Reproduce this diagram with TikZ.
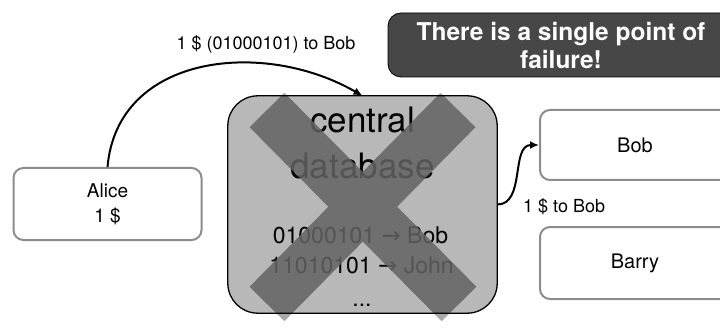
\documentclass[tikz,border=0pt]{standalone}
\usepackage{fontspec}
\setmainfont{TeX Gyre Heros}
\newfontfamily\arrowfont{DejaVu Sans}
\usetikzlibrary{arrows.meta}

\newcommand{\fsize}[2]{\fontsize{#1}{#2}\selectfont}
\newcommand{\toarrow}{{\arrowfont →}}

\definecolor{dbgray}{HTML}{B8B8B8}
\definecolor{crossgray}{HTML}{636363}
\definecolor{crosslight}{HTML}{A8A8A8}
\definecolor{notegray}{HTML}{474747}
\definecolor{boxgray}{HTML}{8C8C8C}

\tikzset{
  account/.style={draw=boxgray, line width=2pt, fill=white, rounded corners=10pt,
    minimum width=188pt, minimum height=72pt, align=center, font=\fsize{19}{25}},
  dbbox/.style={fill=dbgray, rounded corners=30pt,
    minimum width=269pt, minimum height=217pt},
  dbline/.style={draw=black, line width=1.3pt, rounded corners=30pt},
  dbtitle/.style={inner sep=0pt, font=\fsize{35}{45}},
  record/.style={inner sep=0pt, font=\fsize{23}{30}},
  msg/.style={inner sep=0pt, font=\fsize{18}{22}},
  note/.style={draw=black, line width=0.8pt, fill=notegray, text=white, rounded corners=13pt,
    minimum width=346pt, minimum height=64pt, align=center, font=\bfseries\fsize{24.5}{28}},
  link/.style={draw=black, line width=2pt, -{Latex[length=9pt,width=8pt]}},
  cross/.style={line width=49pt}
}

\begin{document}
\begin{tikzpicture}[x=1pt, y=1pt]
    \useasboundingbox (0,0) rectangle (720,327);
    \clip (0,0) rectangle (720,327);

    % Accounts
    \node[account] (alice) at (107.5,123) {Alice\\1 \$};
    \node[account, minimum width=190pt, minimum height=70pt, font=\fsize{20}{25}] (bob) at (635,182) {Bob};
    \node[account, minimum width=190pt, font=\fsize{20}{25}] (barry) at (635,64) {Barry};

    % Cross, outer part
    \draw[cross, draw=crosslight] (267,217) -- (459,23) (458,217) -- (267,23);

    % Central database
    \node[dbbox] (db) at (362.5,122.5) {};
    \node[dbtitle, anchor=base] (dbname) at (362.5,194) {central};
    \node[dbtitle, anchor=base] (dbkind) at (362.5,149) {database};
    \node[record, anchor=base] (recbob) at (360.5,84) {01000101 \toarrow{} Bob};
    \node[record, anchor=base] (recjohn) at (361.5,54) {11010101 \toarrow{} John};
    \node[record, anchor=base] (recmore) at (362,21) {...};

    % Cross, inner part
    \begin{scope}
        \clip[rounded corners=30pt] (db.south west) rectangle (db.north east);
        \draw[cross, draw=crossgray, draw opacity=0.85] (267,217) -- (459,23) (458,217) -- (267,23);
    \end{scope}
    \draw[dbline] (db.south west) rectangle (db.north east);

    % Transfers
    \draw[link] (alice.north) to [out=85,in=150,looseness=1.1] (db.north);
    \node[msg, anchor=base] (sendlbl) at (266,277) {1 \$ (01000101) to Bob};

    \draw[link] (db.east) to [out=0,in=180] (bob.west);
    \node[msg, anchor=base west] (paylbl) at (523,114) {1 \$ to Bob};

    % Warning
    \node[note] (warn) at (561,282) {There is a single point of\\failure!};
\end{tikzpicture}
\end{document}
